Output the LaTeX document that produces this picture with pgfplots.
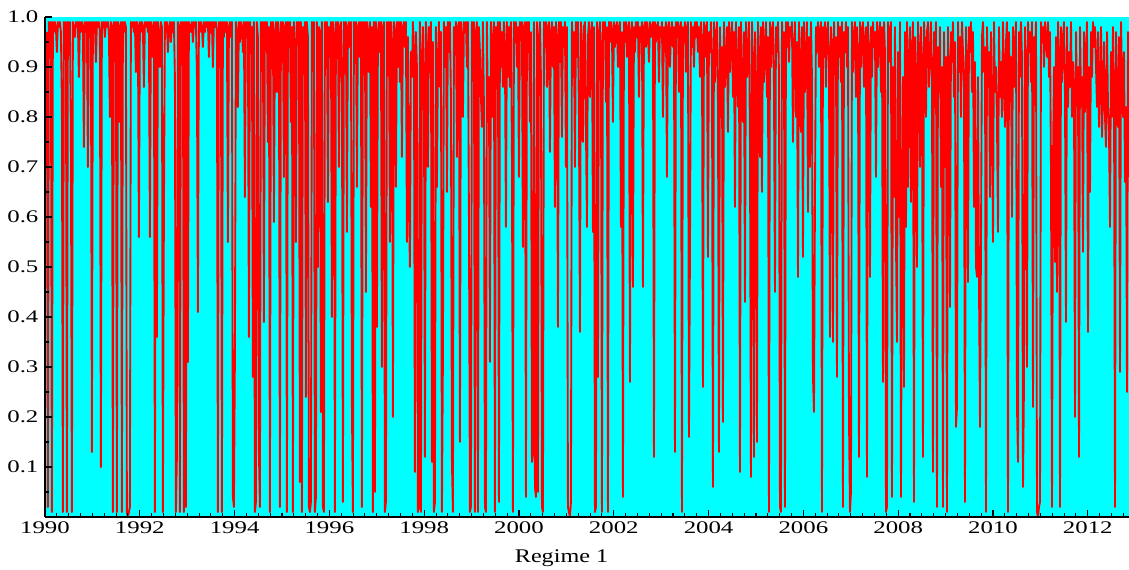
\documentclass[border=0pt]{standalone}
\usepackage{pgfplots}
\pgfplotsset{compat=1.18}
\usepackage{pgfplotstable}
\usepackage{fontspec}
\setmainfont{Liberation Serif}

\definecolor{probfill}{RGB}{0,255,255}
\definecolor{probline}{RGB}{255,0,0}

% filtered probability of regime 1, one value per step of about 0.0211 years from 1990.04
\pgfplotstableread[row sep=\\]{
p\\
0.97\\0.02\\0.99\\0.98\\0.99\\0.01\\0.99\\0.97\\0.99\\0.98\\0.93\\0.99\\0.98\\0.99\\0.97\\0.83\\0.01\\0.99\\0.98\\0.99\\
0.01\\0.99\\0.97\\0.99\\0.76\\0.01\\0.99\\0.98\\0.96\\0.99\\0.98\\0.99\\0.88\\0.99\\0.97\\0.99\\0.98\\0.74\\0.99\\0.97\\
0.99\\0.70\\0.99\\0.98\\0.99\\0.13\\0.99\\0.97\\0.99\\0.91\\0.99\\0.98\\0.99\\0.97\\0.10\\0.99\\0.98\\0.99\\0.96\\0.99\\
0.98\\0.99\\0.97\\0.80\\0.99\\0.98\\0.01\\0.99\\0.97\\0.99\\0.01\\0.99\\0.98\\0.79\\0.99\\0.01\\0.99\\0.97\\0.99\\0.98\\
0.01\\0.00\\0.01\\0.02\\0.99\\0.98\\0.99\\0.97\\0.99\\0.89\\0.99\\0.98\\0.56\\0.99\\0.97\\0.99\\0.98\\0.86\\0.99\\0.98\\
0.99\\0.97\\0.99\\0.56\\0.99\\0.98\\0.92\\0.99\\0.01\\0.99\\0.36\\0.99\\0.97\\0.90\\0.99\\0.98\\0.01\\0.60\\0.99\\0.97\\
0.99\\0.93\\0.98\\0.99\\0.95\\0.99\\0.97\\0.99\\0.88\\0.01\\0.12\\0.99\\0.98\\0.01\\0.99\\0.97\\0.99\\0.01\\0.99\\0.02\\
0.99\\0.31\\0.99\\0.98\\0.97\\0.99\\0.95\\0.99\\0.98\\0.99\\0.89\\0.41\\0.99\\0.97\\0.99\\0.98\\0.94\\0.99\\0.97\\0.99\\
0.98\\0.99\\0.92\\0.99\\0.97\\0.99\\0.90\\0.99\\0.98\\0.99\\0.97\\0.01\\0.99\\0.98\\0.99\\0.01\\0.99\\0.96\\0.99\\0.97\\
0.99\\0.55\\0.98\\0.99\\0.96\\0.99\\0.04\\0.02\\0.32\\0.99\\0.97\\0.82\\0.99\\0.95\\0.99\\0.98\\0.93\\0.99\\0.64\\0.99\\
0.97\\0.99\\0.36\\0.99\\0.95\\0.98\\0.28\\0.99\\0.01\\0.03\\0.99\\0.96\\0.13\\0.02\\0.99\\0.97\\0.99\\0.39\\0.99\\0.95\\
0.99\\0.75\\0.98\\0.01\\0.99\\0.94\\0.99\\0.59\\0.97\\0.99\\0.85\\0.99\\0.96\\0.02\\0.99\\0.93\\0.99\\0.68\\0.98\\0.99\\
0.01\\0.99\\0.95\\0.99\\0.79\\0.98\\0.01\\0.99\\0.94\\0.55\\0.99\\0.97\\0.99\\0.07\\0.99\\0.01\\0.98\\0.90\\0.99\\0.24\\
0.99\\0.96\\0.02\\0.01\\0.03\\0.99\\0.94\\0.99\\0.01\\0.04\\0.99\\0.50\\0.98\\0.97\\0.21\\0.99\\0.02\\0.01\\0.99\\0.95\\
0.99\\0.63\\0.98\\0.92\\0.99\\0.40\\0.99\\0.96\\0.01\\0.99\\0.93\\0.99\\0.70\\0.98\\0.99\\0.88\\0.03\\0.99\\0.95\\0.99\\
0.57\\0.98\\0.99\\0.94\\0.99\\0.22\\0.01\\0.99\\0.96\\0.99\\0.66\\0.98\\0.99\\0.92\\0.99\\0.02\\0.99\\0.95\\0.99\\0.45\\
0.99\\0.97\\0.89\\0.99\\0.62\\0.98\\0.01\\0.99\\0.05\\0.99\\0.38\\0.97\\0.99\\0.93\\0.99\\0.30\\0.98\\0.99\\0.01\\0.03\\
0.99\\0.96\\0.99\\0.55\\0.99\\0.94\\0.20\\0.99\\0.97\\0.66\\0.99\\0.90\\0.99\\0.87\\0.99\\0.72\\0.98\\0.99\\0.94\\0.99\\
0.55\\0.96\\0.62\\0.50\\0.93\\0.88\\0.99\\0.92\\0.09\\0.97\\0.90\\0.01\\0.02\\0.99\\0.01\\0.92\\0.98\\0.87\\0.12\\0.99\\
0.93\\0.70\\0.98\\0.89\\0.99\\0.11\\0.95\\0.01\\0.03\\0.98\\0.66\\0.91\\0.99\\0.86\\0.97\\0.01\\0.32\\0.99\\0.90\\0.98\\
0.65\\0.99\\0.93\\0.99\\0.84\\0.11\\0.01\\0.98\\0.95\\0.99\\0.72\\0.98\\0.99\\0.15\\0.99\\0.96\\0.80\\0.99\\0.97\\0.99\\
0.90\\0.99\\0.60\\0.01\\0.02\\0.99\\0.95\\0.99\\0.01\\0.97\\0.99\\0.01\\0.98\\0.93\\0.84\\0.78\\0.99\\0.82\\0.02\\0.01\\
0.99\\0.79\\0.88\\0.31\\0.99\\0.80\\0.96\\0.99\\0.01\\0.98\\0.94\\0.99\\0.03\\0.99\\0.90\\0.97\\0.86\\0.99\\0.93\\0.58\\
0.99\\0.88\\0.98\\0.86\\0.99\\0.72\\0.01\\0.99\\0.95\\0.99\\0.90\\0.98\\0.68\\0.99\\0.96\\0.99\\0.54\\0.98\\0.99\\0.04\\
0.99\\0.93\\0.99\\0.79\\0.97\\0.11\\0.13\\0.99\\0.06\\0.04\\0.99\\0.05\\0.96\\0.99\\0.88\\0.02\\0.01\\0.99\\0.94\\0.99\\
0.86\\0.98\\0.99\\0.73\\0.97\\0.99\\0.90\\0.98\\0.62\\0.99\\0.95\\0.38\\0.99\\0.91\\0.99\\0.76\\0.98\\0.94\\0.99\\0.70\\
0.98\\0.02\\0.01\\0.00\\0.03\\0.99\\0.88\\0.97\\0.70\\0.99\\0.92\\0.99\\0.80\\0.37\\0.99\\0.93\\0.75\\0.98\\0.99\\0.78\\
0.58\\0.96\\0.99\\0.84\\0.97\\0.99\\0.57\\0.98\\0.01\\0.02\\0.99\\0.28\\0.97\\0.99\\0.93\\0.01\\0.99\\0.96\\0.99\\0.83\\
0.98\\0.01\\0.99\\0.95\\0.99\\0.97\\0.79\\0.99\\0.94\\0.98\\0.99\\0.90\\0.98\\0.99\\0.58\\0.97\\0.04\\0.99\\0.95\\0.99\\
0.92\\0.98\\0.99\\0.27\\0.97\\0.99\\0.46\\0.98\\0.93\\0.99\\0.96\\0.99\\0.84\\0.98\\0.95\\0.99\\0.46\\0.98\\0.99\\0.94\\
0.99\\0.97\\0.91\\0.99\\0.96\\0.98\\0.99\\0.12\\0.99\\0.95\\0.98\\0.99\\0.87\\0.98\\0.96\\0.99\\0.80\\0.98\\0.93\\0.99\\
0.68\\0.98\\0.99\\0.90\\0.97\\0.99\\0.94\\0.98\\0.13\\0.99\\0.96\\0.99\\0.85\\0.98\\0.99\\0.01\\0.98\\0.95\\0.99\\0.89\\
0.98\\0.99\\0.16\\0.53\\0.99\\0.94\\0.98\\0.90\\0.99\\0.96\\0.99\\0.93\\0.98\\0.88\\0.99\\0.95\\0.26\\0.99\\0.92\\0.98\\
0.99\\0.52\\0.97\\0.93\\0.99\\0.90\\0.06\\0.99\\0.87\\0.96\\0.99\\0.83\\0.13\\0.98\\0.80\\0.94\\0.19\\0.99\\0.86\\0.91\\
0.98\\0.77\\0.99\\0.89\\0.95\\0.99\\0.84\\0.97\\0.62\\0.99\\0.90\\0.82\\0.98\\0.09\\0.99\\0.86\\0.79\\0.97\\0.43\\0.99\\
0.88\\0.93\\0.99\\0.75\\0.08\\0.99\\0.89\\0.12\\0.97\\0.84\\0.15\\0.99\\0.91\\0.72\\0.98\\0.65\\0.99\\0.87\\0.94\\0.99\\
0.84\\0.96\\0.01\\0.99\\0.90\\0.97\\0.99\\0.86\\0.45\\0.98\\0.93\\0.99\\0.89\\0.02\\0.01\\0.99\\0.92\\0.97\\0.02\\0.99\\
0.94\\0.99\\0.91\\0.98\\0.96\\0.99\\0.75\\0.93\\0.99\\0.80\\0.95\\0.48\\0.99\\0.90\\0.77\\0.98\\0.52\\0.99\\0.85\\0.92\\
0.99\\0.61\\0.96\\0.70\\0.99\\0.88\\0.28\\0.21\\0.64\\0.98\\0.93\\0.99\\0.90\\0.97\\0.99\\0.01\\0.98\\0.92\\0.99\\0.86\\
0.97\\0.99\\0.91\\0.36\\0.98\\0.94\\0.35\\0.99\\0.89\\0.96\\0.28\\0.99\\0.92\\0.98\\0.87\\0.99\\0.02\\0.97\\0.93\\0.99\\
0.90\\0.98\\0.20\\0.01\\0.05\\0.99\\0.89\\0.96\\0.99\\0.84\\0.98\\0.93\\0.12\\0.99\\0.90\\0.97\\0.99\\0.86\\0.95\\0.98\\
0.08\\0.99\\0.92\\0.48\\0.98\\0.88\\0.99\\0.94\\0.97\\0.68\\0.99\\0.90\\0.96\\0.99\\0.85\\0.98\\0.27\\0.99\\0.93\\0.01\\
0.02\\0.99\\0.91\\0.97\\0.99\\0.04\\0.90\\0.64\\0.98\\0.55\\0.35\\0.93\\0.60\\0.99\\0.04\\0.62\\0.88\\0.26\\0.97\\0.58\\
0.99\\0.66\\0.90\\0.98\\0.63\\0.93\\0.99\\0.03\\0.96\\0.87\\0.50\\0.99\\0.92\\0.70\\0.98\\0.89\\0.12\\0.99\\0.94\\0.80\\
0.97\\0.99\\0.86\\0.92\\0.99\\0.88\\0.09\\0.97\\0.90\\0.99\\0.02\\0.94\\0.85\\0.98\\0.66\\0.90\\0.02\\0.97\\0.70\\0.92\\
0.01\\0.98\\0.88\\0.42\\0.97\\0.91\\0.99\\0.84\\0.95\\0.18\\0.22\\0.99\\0.89\\0.96\\0.80\\0.99\\0.93\\0.87\\0.03\\0.98\\
0.90\\0.47\\0.98\\0.93\\0.99\\0.85\\0.97\\0.62\\0.91\\0.50\\0.48\\0.88\\0.47\\0.18\\0.55\\0.96\\0.99\\0.89\\0.94\\0.01\\
0.98\\0.86\\0.93\\0.64\\0.97\\0.82\\0.55\\0.99\\0.85\\0.90\\0.79\\0.57\\0.98\\0.84\\0.91\\0.80\\0.99\\0.88\\0.78\\0.95\\
0.99\\0.01\\0.97\\0.83\\0.92\\0.60\\0.98\\0.86\\0.94\\0.99\\0.22\\0.11\\0.97\\0.88\\0.99\\0.92\\0.06\\0.27\\0.98\\0.90\\
0.30\\0.99\\0.93\\0.97\\0.87\\0.99\\0.22\\0.96\\0.91\\0.99\\0.01\\0.00\\0.02\\0.03\\0.99\\0.95\\0.98\\0.90\\0.99\\0.96\\
0.92\\0.99\\0.88\\0.97\\0.69\\0.02\\0.71\\0.90\\0.51\\0.96\\0.45\\0.99\\0.93\\0.02\\0.98\\0.87\\0.95\\0.99\\0.84\\0.39\\
0.98\\0.82\\0.93\\0.86\\0.99\\0.80\\0.91\\0.85\\0.20\\0.97\\0.83\\0.90\\0.12\\0.98\\0.84\\0.88\\0.53\\0.97\\0.81\\0.92\\
0.99\\0.37\\0.90\\0.65\\0.97\\0.88\\0.99\\0.94\\0.98\\0.90\\0.82\\0.97\\0.78\\0.86\\0.98\\0.76\\0.84\\0.95\\0.80\\0.74\\
0.97\\0.82\\0.77\\0.58\\0.93\\0.80\\0.98\\0.85\\0.02\\0.97\\0.82\\0.78\\0.96\\0.29\\0.99\\0.88\\0.80\\0.93\\0.67\\0.82\\
0.25\\0.97\\0.68\\
}\regimeone

\begin{document}
\begin{tikzpicture}
\begin{axis}[
  scale only axis,
  width=813pt, height=375pt,
  xmin=1990, xmax=2012.87,
  ymin=0, ymax=1,
  axis x line*=bottom,
  axis y line*=left,
  axis line style={black, line width=1pt, -},
  axis on top,
  tick align=inside,
  major tick length=5.5pt,
  minor tick length=3pt,
  every tick/.style={black, line width=0.8pt},
  xtick={1990,1992,1994,1996,1998,2000,2002,2004,2006,2008,2010,2012},
  minor xtick={1990,1990.25,...,2012.75},
  ytick={0.1,0.2,0.3,0.4,0.5,0.6,0.7,0.8,0.9,1.0},
  minor ytick={0.05,0.15,0.25,0.35,0.45,0.55,0.65,0.75,0.85,0.95},
  /pgf/number format/assume math mode=true,
  ticklabel style={font=\fontsize{13.3}{16}\selectfont, xscale=1.4},
  xticklabel style={/pgf/number format/1000 sep={}},
  yticklabel style={/pgf/number format/.cd, fixed, fixed zerofill, precision=1},
  xlabel={Regime 1},
  xlabel style={font=\fontsize{14.5}{17}\selectfont, xscale=1.25,
    at={(axis description cs:0.4765,0)}, anchor=base, yshift=-34.5pt},
  clip=true,
]
\addplot[fill=probfill, draw=none] coordinates {(1990,1) (2012.87,1)} \closedcycle;
\addplot[probline, line width=1.4pt, line join=round, mark=none]
  table[x expr=1990.04+\coordindex*0.0211, y=p] {\regimeone};
\end{axis}
\pgfresetboundingbox
\path[use as bounding box]
  ([xshift=-33.75pt, yshift=-39.75pt]current axis.south west)
  rectangle ([yshift=12.75pt]current axis.north east);
\end{tikzpicture}
\end{document}
